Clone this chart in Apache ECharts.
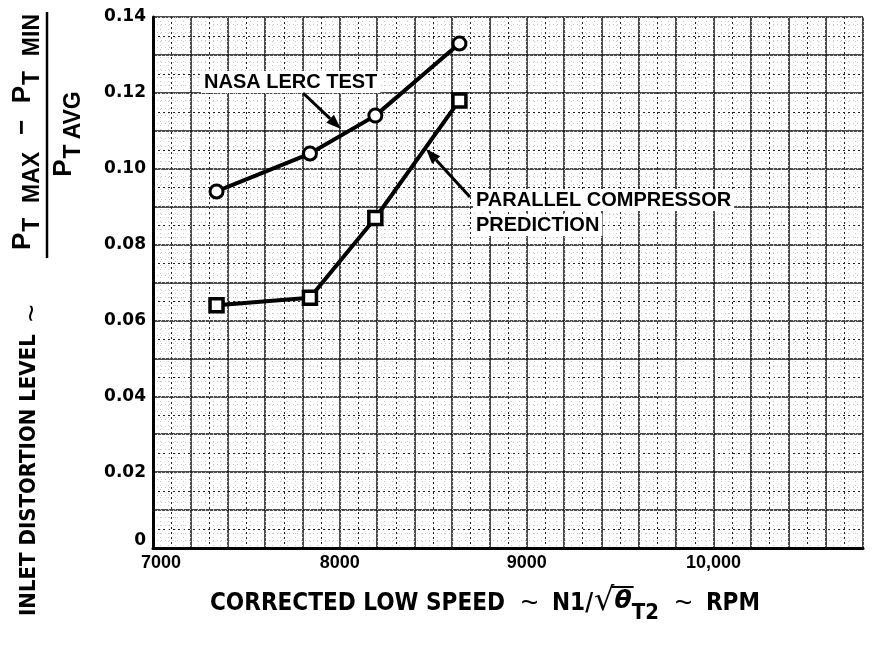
<!DOCTYPE html>
<html>
<head>
<meta charset="utf-8">
<script src="https://cdn.jsdelivr.net/npm/echarts@6/dist/echarts.min.js"></script>
<style>
  html, body { margin: 0; padding: 0; background: #fff; }
  #chart { width: 872px; height: 650px; }
</style>
</head>
<body>
<div id="chart"></div>
<script>
// Corrected low-spool speed at each test point (RPM)
const rpm = [7340, 7840, 8190, 8640];
// Measured inlet distortion, NASA LeRC test
const nasaLercTest = [0.094, 0.104, 0.114, 0.133];
// Parallel compressor model prediction
const parallelPrediction = [0.064, 0.066, 0.087, 0.118];
// Labelled ticks
const xTickText = { 7000: '7000', 8000: '8000', 9000: '9000', 10000: '10,000' };
const yTickText = { 0: '0', 2: '0.02', 4: '0.04', 6: '0.06', 8: '0.08', 10: '0.10', 12: '0.12', 14: '0.14' };

const TITLE_FAMILY = "'DejaVu Sans Condensed', 'Liberation Sans Narrow', 'Liberation Sans', sans-serif";
const LABEL_FAMILY = "'Liberation Sans', Arial, sans-serif";
const WIDE_FAMILY = "'DejaVu Sans', 'Liberation Sans', sans-serif";

const mctx = document.createElement('canvas').getContext('2d');
function widthOf(str, font) { mctx.font = font; return mctx.measureText(str).width; }
function font(weight, size, family) { return weight + ' ' + size + 'px ' + family; }
function fitSize(str, weight, family, target) {
  return 20 * target / widthOf(str, font(weight, 20, family));
}
function txt(str, f, x, y, extra) {
  return {
    type: 'text', x: x, y: y, z: 100,
    style: Object.assign({
      text: str, font: f, fill: '#000',
      align: 'left', textAlign: 'left',
      verticalAlign: 'middle', textVerticalAlign: 'middle'
    }, extra || {})
  };
}
function arrow(x1, y1, x2, y2) {
  const a = Math.atan2(y2 - y1, x2 - x1), L = 15, W = 5.5;
  const bx = x2 - L * Math.cos(a), by = y2 - L * Math.sin(a);
  return [
    { type: 'line', z: 100, shape: { x1: x1, y1: y1, x2: bx, y2: by }, style: { stroke: '#000', lineWidth: 3 } },
    { type: 'polygon', z: 100, shape: { points: [[x2, y2],
        [bx + W * Math.sin(a), by - W * Math.cos(a)],
        [bx - W * Math.sin(a), by + W * Math.cos(a)]] }, style: { fill: '#000' } }
  ];
}

function naturalWidth(pieces) {
  return pieces.reduce((s, p) => s + (p.gap !== undefined ? p.gap : widthOf(p.t, p.f)), 0);
}
// Lay a run of text pieces along one line from x0 to x1; flexible gaps absorb the slack
function run(pieces, x0, y0, x1) {
  const natural = naturalWidth(pieces);
  const flex = pieces.filter(p => p.flex).length;
  const extra = (x1 !== undefined && flex) ? (x1 - x0 - natural) / flex : 0;
  const out = [], marks = {};
  let x = x0;
  pieces.forEach(p => {
    if (p.gap !== undefined) { x += p.gap + (p.flex ? extra : 0); return; }
    const w = widthOf(p.t, p.f);
    out.push(txt(p.t, p.f, x, y0 + (p.dy || 0)));
    if (p.key) marks[p.key] = [x, x + w];
    x += w;
  });
  return { els: out, end: x, marks: marks };
}

// ---- x axis title ----
const XT = font('bold', fitSize('CORRECTED LOW SPEED', 'bold', TITLE_FAMILY, 295), TITLE_FAMILY);
const TILDE = font('normal', 30, LABEL_FAMILY);
const xTitle = run([
  { t: 'CORRECTED LOW SPEED', f: XT },
  { gap: 8, flex: true },
  { t: '~', f: TILDE },
  { gap: 6, flex: true },
  { t: 'N1/', f: XT },
  { gap: 1 },
  { t: '\u221A', f: font('normal', 32, WIDE_FAMILY), key: 'rad', dy: -2 },
  { t: '\u03B8', f: font('bold italic', 25, WIDE_FAMILY), key: 'theta', dy: -3 },
  { t: 'T2', f: font('bold', 22, TITLE_FAMILY), dy: 9 },
  { gap: 8, flex: true },
  { t: '~', f: TILDE },
  { gap: 6, flex: true },
  { t: 'RPM', f: XT }
], 210, 604, 760);
const overline = {
  type: 'line', z: 100,
  shape: { x1: xTitle.marks.rad[1] - 3, y1: 587, x2: xTitle.marks.theta[1] + 2, y2: 587 },
  style: { stroke: '#000', lineWidth: 2 }
};

// ---- y axis title (drawn horizontally, then turned to read bottom-to-top) ----
const YT = font('bold', fitSize('INLET DISTORTION LEVEL', 'bold', TITLE_FAMILY, 282), TITLE_FAMILY);
const PF = font('bold', 26, LABEL_FAMILY);
const SF = font('bold', 23, LABEL_FAMILY);
const yMain = run([{ t: 'INLET DISTORTION LEVEL', f: YT }], 4, 29);
const yTilde = run([{ t: '~', f: TILDE }], 298, 33);
const numer = run([
  { t: 'P', f: PF }, { gap: 1 }, { t: 'T', f: SF, dy: 10 }, { gap: 3, flex: true }, { t: 'MAX', f: SF, dy: 10 },
  { gap: 5, flex: true }, { t: '\u2212', f: PF }, { gap: 5, flex: true },
  { t: 'P', f: PF }, { gap: 1 }, { t: 'T', f: SF, dy: 10 }, { gap: 3, flex: true }, { t: 'MIN', f: SF, dy: 10 }
], 370, 23, 606);
const denomPieces = [
  { t: 'P', f: PF }, { gap: 1 }, { t: 'T', f: SF, dy: 10 }, { gap: 5 }, { t: 'AVG', f: SF, dy: 10 }
];
const denom = run(denomPieces, 486 - naturalWidth(denomPieces) / 2, 64);
const fracBar = { type: 'line', z: 100, shape: { x1: 362, y1: 47, x2: 608, y2: 47 }, style: { stroke: '#000', lineWidth: 2.5 } };
const yTitleGroup = {
  type: 'group', x: 0, y: 620, rotation: Math.PI / 2,
  children: [].concat(yMain.els, yTilde.els, numer.els, denom.els, [fracBar])
};

// ---- callouts ----
const NOTE = font('bold', 20, LABEL_FAMILY);
const noteBg = { backgroundColor: '#fff', padding: [1, 3, 1, 3] };
const callouts = [].concat(
  [txt('NASA LERC TEST', NOTE, 201, 82, noteBg)],
  arrow(303, 93, 341, 129),
  [txt('PARALLEL COMPRESSOR', NOTE, 473, 200, noteBg)],
  [txt('PREDICTION', NOTE, 473, 225, noteBg)],
  arrow(470, 197, 426, 149)
);

const option = {
  backgroundColor: '#fff',
  animation: false,
  grid: { left: 153, top: 17, width: 710, height: 531 },
  xAxis: [{
    type: 'value', min: 7000, max: 10800, interval: 200,
    axisLine: { show: true, onZero: false, lineStyle: { color: '#000', width: 3 } },
    axisTick: { show: false },
    axisLabel: {
      color: '#000', fontSize: 18, fontWeight: 'bold', fontFamily: LABEL_FAMILY, margin: 6,
      formatter: v => v === 7000 ? '{first|7000}' : (xTickText[v] || ''),
      rich: { first: { padding: [0, 0, 0, 16], fontSize: 18, fontWeight: 'bold', fontFamily: LABEL_FAMILY, color: '#000' } }
    },
    splitLine: { show: true, lineStyle: { color: '#111', width: 1.5 } },
    minorTick: { show: false, splitNumber: 2 },
    minorSplitLine: { show: true, lineStyle: { color: '#222', width: 1, type: [2, 3] } }
  }, {
    type: 'value', min: 7000, max: 10800, interval: 40, position: 'top',
    axisLine: { show: false }, axisTick: { show: false }, axisLabel: { show: false },
    splitLine: { show: true, lineStyle: { color: '#c8c8c8', width: 1, type: [1, 3] } }
  }],
  yAxis: [{
    type: 'value', min: 0, max: 0.14, interval: 0.01,
    axisLine: { show: true, onZero: false, lineStyle: { color: '#000', width: 3 } },
    axisTick: { show: false },
    axisLabel: {
      color: '#000', fontSize: 17, fontWeight: 'bold', fontFamily: WIDE_FAMILY, margin: 7,
      formatter: v => {
        const k = Math.round(v * 100);
        if (k === 0) return '{zero|0}';
        return yTickText[k] || '';
      },
      rich: { zero: { padding: [0, 0, 14, 0], fontSize: 17, fontWeight: 'bold', fontFamily: WIDE_FAMILY, color: '#000' } }
    },
    splitLine: { show: true, lineStyle: { color: '#111', width: 1.5 } },
    minorTick: { show: false, splitNumber: 2 },
    minorSplitLine: { show: true, lineStyle: { color: '#222', width: 1, type: [2, 3] } }
  }, {
    type: 'value', min: 0, max: 0.14, interval: 0.002, position: 'right',
    axisLine: { show: false }, axisTick: { show: false }, axisLabel: { show: false },
    splitLine: { show: true, lineStyle: { color: '#c8c8c8', width: 1, type: [1, 3] } }
  }],
  series: [{
    name: 'NASA LERC TEST', type: 'line', z: 10,
    data: rpm.map((x, i) => [x, nasaLercTest[i]]),
    symbol: 'circle', symbolSize: 13,
    lineStyle: { color: '#000', width: 4 },
    itemStyle: { color: '#fff', borderColor: '#000', borderWidth: 3 }
  }, {
    name: 'PARALLEL COMPRESSOR PREDICTION', type: 'line', z: 10,
    data: rpm.map((x, i) => [x, parallelPrediction[i]]),
    symbol: 'rect', symbolSize: 13,
    lineStyle: { color: '#000', width: 4 },
    itemStyle: { color: '#fff', borderColor: '#000', borderWidth: 3.5 }
  }],
  graphic: { elements: [].concat(xTitle.els, [overline, yTitleGroup], callouts) }
};

const chart = echarts.init(document.getElementById('chart'), null, { renderer: 'canvas' });
chart.setOption(option);
</script>
</body>
</html>
